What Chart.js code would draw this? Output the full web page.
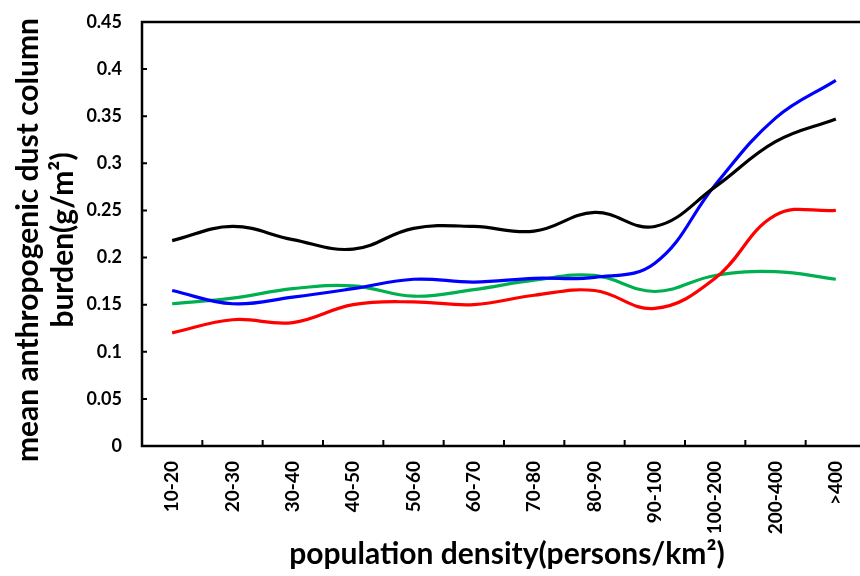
<!DOCTYPE html>
<html>
<head>
<meta charset="utf-8">
<script src="https://cdn.jsdelivr.net/npm/chart.js@4.4.0/dist/chart.umd.min.js"></script>
<style>
  html, body { margin: 0; padding: 0; background: #fff; overflow: hidden; }
  #wrap { width: 860px; height: 576px; position: relative; overflow: hidden; }
  #c { display: block; }
</style>
</head>
<body>
<div id="wrap"><canvas id="c" width="866" height="576"></canvas></div>
<script>
const categories = ['10-20','20-30','30-40','40-50','50-60','60-70','70-80','80-90','90-100','100-200','200-400','>400'];
const blackSeries = [0.218, 0.233, 0.219, 0.209, 0.231, 0.233, 0.228, 0.248, 0.233, 0.275, 0.323, 0.347];
const blueSeries  = [0.165, 0.151, 0.158, 0.167, 0.177, 0.174, 0.178, 0.179, 0.194, 0.277, 0.348, 0.388];
const redSeries   = [0.120, 0.134, 0.131, 0.150, 0.153, 0.150, 0.160, 0.165, 0.146, 0.178, 0.245, 0.250];
const greenSeries = [0.151, 0.157, 0.167, 0.170, 0.159, 0.166, 0.176, 0.181, 0.164, 0.181, 0.185, 0.177];
const yTicks = [0, 0.05, 0.1, 0.15, 0.2, 0.25, 0.3, 0.35, 0.4, 0.45];
const yTitleLines = ['mean anthropogenic dust column', 'burden(g/m\u00B2)'];
const xTitle = 'population density(persons/km\u00B2)';

const FONT = 'Lato, "Open Sans", sans-serif';

const framePlugin = {
  id: 'frame',
  afterDraw(chart) {
    const ctx = chart.ctx;
    const ca = chart.chartArea;
    const xs = chart.scales.x, ys = chart.scales.y;
    ctx.save();
    ctx.strokeStyle = '#000';
    ctx.lineWidth = 2.5;
    ctx.beginPath();
    ctx.moveTo(ca.right + 2, ca.top);
    ctx.lineTo(ca.left, ca.top);
    ctx.lineTo(ca.left, ca.bottom);
    ctx.lineTo(ca.right + 2, ca.bottom);
    ctx.stroke();
    ctx.lineWidth = 2;
    ctx.beginPath();
    ys.ticks.forEach(t => {
      const y = ys.getPixelForValue(t.value);
      ctx.moveTo(ca.left, y);
      ctx.lineTo(ca.left + 5, y);
    });
    for (let i = 1; i < categories.length; i++) {
      const x = (xs.getPixelForValue(i - 1) + xs.getPixelForValue(i)) / 2;
      ctx.moveTo(x, ca.bottom);
      ctx.lineTo(x, ca.bottom - 6);
    }
    ctx.stroke();
    ctx.fillStyle = '#000';
    ctx.font = 'bold 30px ' + FONT;
    ctx.textAlign = 'center';
    ctx.textBaseline = 'middle';
    const cy = 240;
    [28, 63].forEach((x, i) => {
      ctx.save();
      ctx.translate(x, cy);
      ctx.rotate(-Math.PI / 2);
      ctx.fillText(yTitleLines[i], 0, 0);
      ctx.restore();
    });
    ctx.fillText(xTitle, 507, 554);
    ctx.restore();
  }
};

function ds(label, data, color) {
  return {
    label, data,
    borderColor: color,
    backgroundColor: color,
    borderWidth: 3.2,
    pointRadius: 0,
    tension: 0.4,
    fill: false
  };
}

new Chart(document.getElementById('c'), {
  type: 'line',
  data: {
    labels: categories,
    datasets: [
      ds('black', blackSeries, '#000000'),
      ds('blue', blueSeries, '#0000FF'),
      ds('red', redSeries, '#FF0000'),
      ds('green', greenSeries, '#00B050')
    ]
  },
  options: {
    responsive: false,
    animation: false,
    events: [],
    layout: { padding: { top: 22, right: 0, left: 0, bottom: 0 } },
    plugins: { legend: { display: false }, tooltip: { enabled: false } },
    scales: {
      x: {
        type: 'category',
        offset: true,
        grid: { display: false, drawTicks: false },
        border: { display: false },
        ticks: {
          color: '#000',
          font: { family: FONT, size: 19, weight: 'bold' },
          minRotation: 90, maxRotation: 90,
          padding: 15,
          autoSkip: false
        },
        afterFit(scale) { scale.height = 130; scale.paddingLeft = 0; scale.paddingRight = 0; }
      },
      y: {
        min: 0, max: 0.45,
        afterBuildTicks(scale) { scale.ticks = yTicks.map(v => ({ value: v })); },
        grid: { display: false, drawTicks: false },
        border: { display: false },
        ticks: {
          color: '#000',
          font: { family: FONT, size: 18, weight: 'bold' },
          padding: 20,
          callback: v => String(Math.round(v * 100) / 100)
        },
        afterFit(scale) { scale.width = 142; scale.paddingTop = 0; scale.paddingBottom = 0; }
      }
    }
  },
  plugins: [framePlugin]
});
</script>
</body>
</html>
